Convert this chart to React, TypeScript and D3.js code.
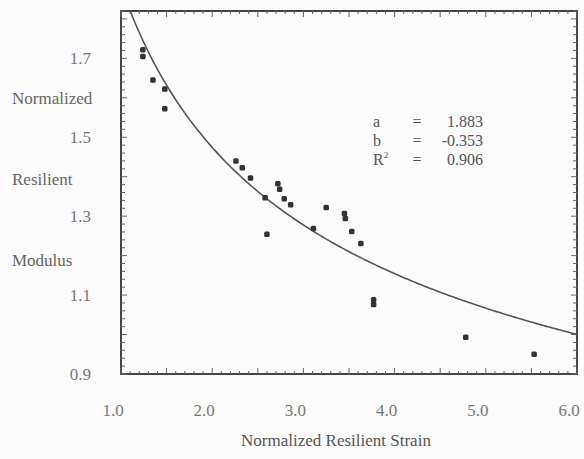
import React, { useRef, useEffect } from "react";
import * as d3 from "d3";

// measured points (normalized resilient strain, normalized resilient modulus)
const strain = [1.24, 1.24, 1.35, 1.48, 1.48, 2.26, 2.33, 2.42, 2.58, 2.6, 2.72, 2.74, 2.79, 2.86, 3.11, 3.25, 3.45, 3.46, 3.53, 3.63, 3.77, 3.77, 4.78, 5.53];
const modulus = [1.722, 1.705, 1.645, 1.622, 1.572, 1.44, 1.423, 1.397, 1.347, 1.254, 1.382, 1.368, 1.344, 1.329, 1.269, 1.322, 1.307, 1.294, 1.261, 1.231, 1.088, 1.076, 0.993, 0.95];

// fit y = a * x^b
const fitA = 1.883;
const fitB = -0.353;
const fitR2 = 0.906;

const xTicks = [1.0, 2.0, 3.0, 4.0, 5.0, 6.0];
const yTicks = [0.9, 1.1, 1.3, 1.5, 1.7];
const yTitle = ["Normalized", "Resilient", "Modulus"];

const W = 584;
const H = 459;

const App = () => {
  const svgRef = useRef(null);

  useEffect(() => {
    const svg = d3.select(svgRef.current);
    svg.selectAll("*").remove();

    const left = 121, right = 577, top = 11, bottom = 374;
    const x = d3.scaleLinear().domain([1.0, 6.0]).range([left, right]);
    const y = d3.scaleLinear().domain([0.9, 1.82]).range([bottom, top]);
    const ink = "#444";
    const font = "'Liberation Serif', 'DejaVu Serif', serif";

    svg.append("rect").attr("width", W).attr("height", H).attr("fill", "#fbfbfb");

    // frame as filled bars
    svg.append("rect").attr("x", left - 1).attr("y", top - 1).attr("width", right - left + 2).attr("height", 2).attr("fill", ink);
    svg.append("rect").attr("x", left - 1).attr("y", bottom - 1).attr("width", right - left + 2).attr("height", 2).attr("fill", ink);
    svg.append("rect").attr("x", left - 1).attr("y", top - 1).attr("width", 2).attr("height", bottom - top + 2).attr("fill", ink);
    svg.append("rect").attr("x", right - 1).attr("y", top - 1).attr("width", 2).attr("height", bottom - top + 2).attr("fill", ink);

    // inward ticks on all sides
    const xMinor = d3.range(10, 61).map((d) => d / 10);
    xMinor.forEach((v) => {
      const major = Math.round(v * 10) % 5 === 0;
      const len = major ? 6 : 3;
      const px = x(v);
      svg.append("line").attr("x1", px).attr("x2", px).attr("y1", bottom).attr("y2", bottom - len).attr("stroke", "#666").attr("stroke-width", 1);
      svg.append("line").attr("x1", px).attr("x2", px).attr("y1", top).attr("y2", top + len).attr("stroke", "#666").attr("stroke-width", 1);
    });
    const yMinor = d3.range(45, 92).map((d) => d / 50);
    yMinor.forEach((v) => {
      const major = Math.round(v * 50) % 5 === 0;
      const len = major ? 6 : 4;
      const py = y(v);
      svg.append("line").attr("x1", left).attr("x2", left + len).attr("y1", py).attr("y2", py).attr("stroke", "#666").attr("stroke-width", 1);
      svg.append("line").attr("x1", right).attr("x2", right - len).attr("y1", py).attr("y2", py).attr("stroke", "#666").attr("stroke-width", 1);
    });

    // tick labels
    svg
      .selectAll("text.xt")
      .data(xTicks)
      .join("text")
      .attr("class", "xt")
      .attr("x", (d) => x(d) - 8)
      .attr("y", 416)
      .attr("text-anchor", "middle")
      .attr("fill", "#777")
      .style("font-family", font)
      .style("font-size", "17px")
      .text((d) => d.toFixed(1));

    svg
      .selectAll("text.yt")
      .data(yTicks)
      .join("text")
      .attr("class", "yt")
      .attr("x", 91)
      .attr("y", (d) => y(d) + 6)
      .attr("text-anchor", "end")
      .attr("fill", "#777")
      .style("font-family", font)
      .style("font-size", "17px")
      .text((d) => d.toFixed(1));

    svg
      .selectAll("text.ytitle")
      .data(yTitle)
      .join("text")
      .attr("class", "ytitle")
      .attr("x", 12)
      .attr("y", (d, i) => 104 + i * 81)
      .attr("fill", "#666")
      .style("font-family", font)
      .style("font-size", "17px")
      .text((d) => d);

    svg
      .append("text")
      .attr("x", 336)
      .attr("y", 446)
      .attr("text-anchor", "middle")
      .attr("fill", "#555")
      .style("font-family", font)
      .style("font-size", "17px")
      .text("Normalized Resilient Strain");

    // fitted curve
    const xStart = Math.pow(y.domain()[1] / fitA, 1 / fitB);
    const curveX = d3.range(0, 201).map((i) => xStart + ((6.0 - xStart) * i) / 200);
    svg
      .append("path")
      .datum(curveX)
      .attr("fill", "none")
      .attr("stroke", "#555")
      .attr("stroke-width", 1.6)
      .attr(
        "d",
        d3
          .line()
          .x((d) => x(d))
          .y((d) => y(fitA * Math.pow(d, fitB)))
      );

    // points
    svg
      .selectAll("rect.pt")
      .data(strain.map((s, i) => [s, modulus[i]]))
      .join("rect")
      .attr("class", "pt")
      .attr("x", (d) => x(d[0]) - 2.75)
      .attr("y", (d) => y(d[1]) - 2.75)
      .attr("width", 5.5)
      .attr("height", 5.5)
      .attr("rx", 1.5)
      .attr("fill", "#333");

    // fit annotation
    const rows = [
      ["a", fitA.toFixed(3)],
      ["b", fitB.toFixed(3)],
      ["R", fitR2.toFixed(3)],
    ];
    rows.forEach((r, i) => {
      const ty = 127 + i * 19;
      const g = svg.append("g").attr("fill", "#555").style("font-family", font).style("font-size", "16px");
      const lab = g.append("text").attr("x", 373).attr("y", ty).text(r[0]);
      if (r[0] === "R") lab.append("tspan").attr("dy", -7).style("font-size", "9px").text("2");
      g.append("text").attr("x", 417).attr("y", ty).attr("text-anchor", "middle").text("=");
      g.append("text").attr("x", 483).attr("y", ty).attr("text-anchor", "end").text(r[1]);
    });
  }, []);

  return <svg ref={svgRef} width={W} height={H} style={{ position: "absolute", left: 0, top: 0 }}></svg>;
};

export default App;
